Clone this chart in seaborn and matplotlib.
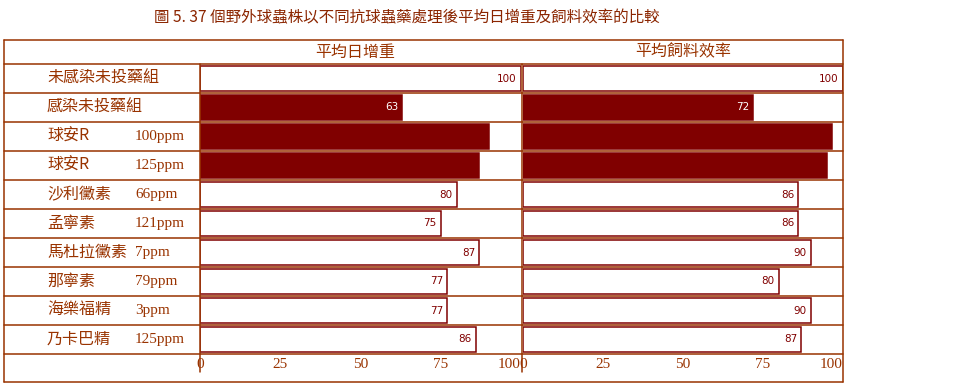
import matplotlib
matplotlib.use("Agg")
import matplotlib.pyplot as plt
import matplotlib.transforms as mtransforms
from matplotlib.lines import Line2D
import pandas as pd
import seaborn as sns

sns.set_style("white")
plt.rcParams['font.family'] = ['Noto Sans CJK TC', 'DejaVu Sans']

# --- data ---
title = "圖 5. 37 個野外球蟲株以不同抗球蟲藥處理後平均日增重及飼料效率的比較"
panel_titles = ["平均日增重", "平均飼料效率"]
groups = ["未感染未投藥組", "感染未投藥組", "球安R", "球安R", "沙利黴素",
          "孟寧素", "馬杜拉黴素", "那寧素", "海樂福精", "乃卡巴精"]
doses = ["", "", "100ppm", "125ppm", "66ppm", "121ppm", "7ppm", "79ppm", "3ppm", "125ppm"]
adg = [100, 63, 90, 87, 80, 75, 87, 77, 77, 86]          # 平均日增重
feed_eff = [100, 72, 96.5, 95, 86, 86, 90, 80, 90, 87]   # 平均飼料效率
filled = [False, True, True, True, False, False, False, False, False, False]
show_value = [True, True, False, False, True, True, True, True, True, True]
xticks = [0, 25, 50, 75, 100]

BAR = "#800000"
INK = "#993300"

df = pd.DataFrame({
    "row": [f"{g} {d}".strip() for g, d in zip(groups, doses)],
    "adg": adg,
    "fe": feed_eff,
    "style": ["filled" if f else "open" for f in filled],
})

W, H = 964, 385
fig = plt.figure(figsize=(W / 100, H / 100), dpi=100)

def fx(x):
    return x / W

def fy(y):
    return 1 - y / H

top, bottom = 64, 354
ax1 = fig.add_axes([fx(200), fy(bottom), fx(521 - 200), (bottom - top) / H])
ax2 = fig.add_axes([fx(523), fy(bottom), fx(843 - 523), (bottom - top) / H])

for ax, col in [(ax1, "adg"), (ax2, "fe")]:
    sns.barplot(data=df, y="row", x=col, hue="style", orient="h",
                palette={"filled": BAR, "open": "white"}, dodge=False, saturation=1,
                width=0.85, edgecolor=BAR, linewidth=1.1, legend=False, ax=ax)
    for i, (v, f, s) in enumerate(zip(df[col], filled, show_value)):
        if s:
            ax.annotate(f"{v:g}", (v, i), xytext=(-3, 0), textcoords="offset points",
                        ha="right", va="center", fontsize=7.5, family="DejaVu Sans",
                        color="white" if f else BAR)
    ax.set_xlim(0, 100)
    ax.set_ylim(len(df) - 0.5, -0.5)
    ax.set_xlabel("")
    ax.set_ylabel("")
    ax.set_yticks([])
    ax.set_xticks(xticks)
    ax.set_xticklabels([str(t) for t in xticks], family="Liberation Serif",
                       fontsize=11, color=INK)
    ax.get_xticklabels()[-1].set_ha("right")
    ax.tick_params(axis="x", length=0, pad=3)
    for sp in ax.spines.values():
        sp.set_visible(False)
    ax.patch.set_alpha(0)

# row labels: group name and dose
trans = mtransforms.blended_transform_factory(fig.transFigure, ax1.transData)
for i, (g, d) in enumerate(zip(groups, doses)):
    ax1.text(fx(47), i, g, transform=trans, ha="left", va="center",
             fontsize=11.5, color=INK, clip_on=False)
    if d:
        ax1.text(fx(135), i, d, transform=trans, ha="left", va="center",
                 fontsize=11, color=INK, family="Liberation Serif", clip_on=False)

# table frame
def hline(y, x0=4, x1=843):
    fig.add_artist(Line2D([fx(x0), fx(x1)], [fy(y), fy(y)], color=INK, lw=1.1))

def vline(x, y0, y1):
    fig.add_artist(Line2D([fx(x), fx(x)], [fy(y0), fy(y1)], color=INK, lw=1.1))

hline(40)
hline(382)
for k in range(len(groups) + 1):
    hline(top + k * (bottom - top) / len(groups))
vline(4, 40, 382)
vline(843, 40, 382)
vline(200, top, 372)
vline(522, top, 372)

fig.text(fx(355), fy(52), panel_titles[0], ha="center", va="center", fontsize=11.5, color=INK)
fig.text(fx(683), fy(52), panel_titles[1], ha="center", va="center", fontsize=11.5, color=INK)
fig.text(fx(407), fy(18), title, ha="center", va="center", fontsize=11.2, color="#8B2500")

fig.savefig("out.png", dpi=100)
